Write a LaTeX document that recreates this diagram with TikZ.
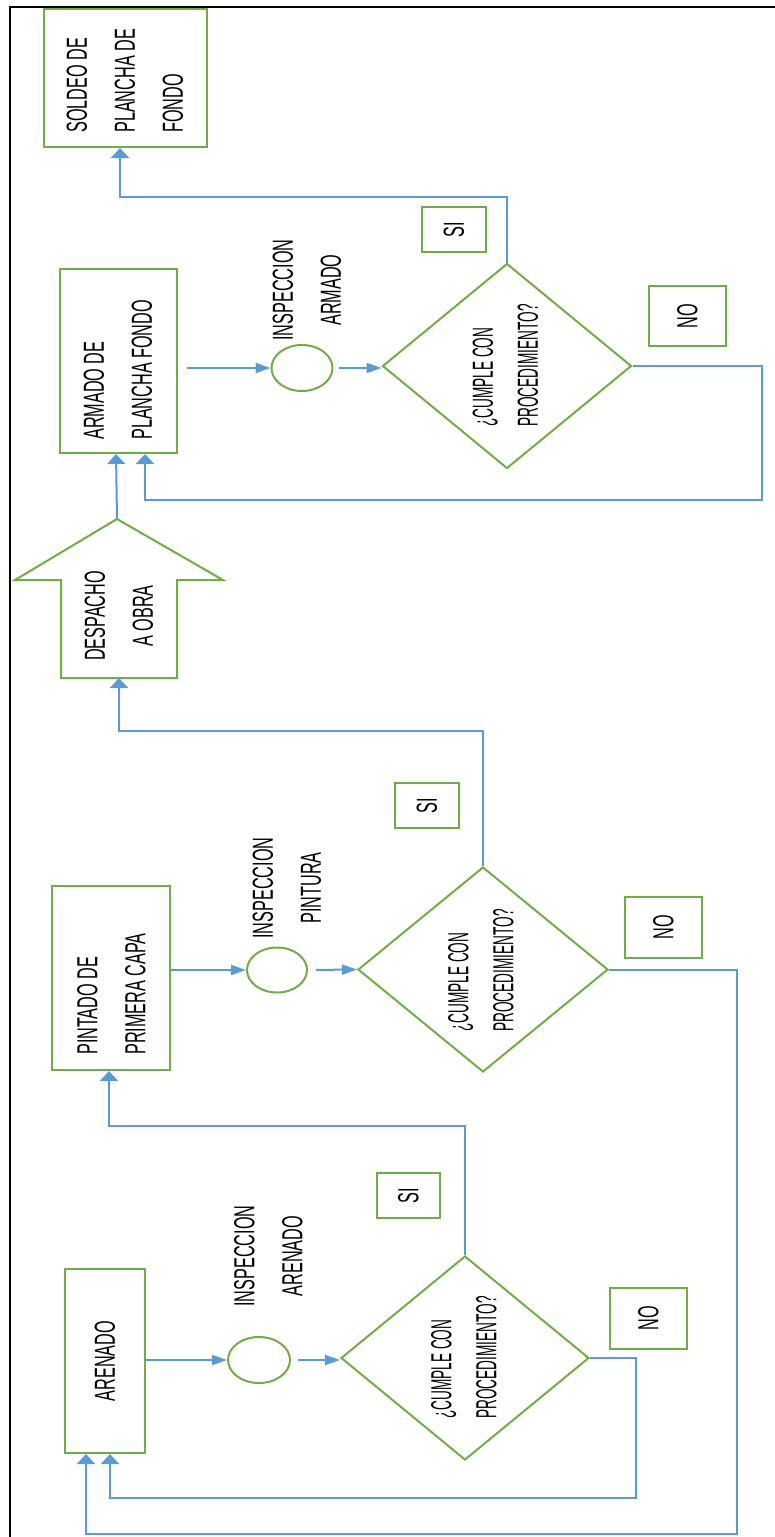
\documentclass[tikz,border=0pt]{standalone}
\usepackage{fontspec}
\usepackage{graphicx}
\newfontfamily\nf[FakeStretch=0.56]{Liberation Sans}
\newfontfamily\df[FakeStretch=0.47]{Liberation Sans}
\usetikzlibrary{shapes.geometric,arrows.meta}
\definecolor{gr}{HTML}{70AD47}
\definecolor{bl}{HTML}{5B9BD5}
\tikzset{
  gbox/.style={draw=gr, line width=2pt, rectangle, inner sep=0pt, font=\nf\fontsize{29}{48}\selectfont},
  gell/.style={draw=gr, line width=2pt, ellipse, inner sep=0pt},
  gdia/.style={draw=gr, line width=2pt, diamond, inner sep=0pt},
  txt/.style={rotate=90, inner sep=0pt, font=\nf\fontsize{29}{48}\selectfont},
  dtxt/.style={rotate=90, inner sep=0pt, align=left, font=\df\fontsize{29}{45}\selectfont},
  conn/.style={draw=bl, line width=2pt},
  varr/.style={-{Triangle[length=10pt,width=18pt]}},
  harr/.style={-{Triangle[length=15pt,width=10pt]}},
}
\begin{document}
\begin{tikzpicture}[x=1pt,y=-1pt]
\useasboundingbox (0,0) rectangle (775,1537);
\draw[line width=2.5pt] (10,1550) -- (10,7) -- (790,7);

% boxes
\node[gbox, minimum width=163pt, minimum height=138pt] (soldeo) at (125.5,78) {};
\node[txt, align=left, anchor=west] (soldeot) at (125,133) {SOLDEO DE\\PLANCHA DE\\FONDO};
\node[gbox, minimum width=117pt, minimum height=184pt] (armado) at (118.5,361) {};
\node[txt, align=left, anchor=west] (armadot) at (118,440) {ARMADO DE\\PLANCHA FONDO};
\node[gbox, minimum width=118pt, minimum height=184pt] (pintado) at (111,978) {};
\node[txt, align=left, anchor=west] (pintadot) at (111.5,1055) {PINTADO DE\\PRIMERA CAPA};
\node[gbox, minimum width=80pt, minimum height=184pt] (arenado) at (105,1361) {\rotatebox{90}{ARENADO}};

% despacho arrow shape
\coordinate (desptip) at (117,519);
\coordinate (despbase) at (119,678);
\draw[draw=gr, line width=2pt, line join=miter] (61,678) -- (61,580) -- (15,580) -- (desptip) -- (223,580) -- (177,580) -- (177,678) -- cycle;
\node[txt, align=center] (despt) at (119,616) {DESPACHO\\A OBRA};

% inspections
\node[gell, minimum width=61pt, minimum height=46pt] (e1) at (302,368) {};
\node[txt, align=center] (i1) at (307,290) {INSPECCION\\ARMADO};
\node[gell, minimum width=60pt, minimum height=45pt] (e2) at (277,970) {};
\node[txt, align=center] (i2) at (287,888) {INSPECCION\\PINTURA};
\node[gell, minimum width=62pt, minimum height=46pt] (e3) at (259,1360) {};
\node[txt, align=center] (i3) at (268.5,1256) {INSPECCION\\ARENADO};

% decisions
\node[gdia, minimum width=249pt, minimum height=205pt] (d1) at (507,366) {};
\node[dtxt, anchor=west] (d1t) at (505.5,427) {¿CUMPLE CON\\PROCEDIMIENTO?};
\node[gdia, minimum width=250pt, minimum height=205pt] (d2) at (483,969.5) {};
\node[dtxt, anchor=west] (d2t) at (481,1032) {¿CUMPLE CON\\PROCEDIMIENTO?};
\node[gdia, minimum width=248pt, minimum height=204pt] (d3) at (465,1358) {};
\node[dtxt, anchor=west] (d3t) at (464,1419) {¿CUMPLE CON\\PROCEDIMIENTO?};

% SI / NO labels
\node[gbox, minimum width=64pt, minimum height=45pt] (si1) at (454,229.5) {\rotatebox{90}{SI}};
\node[gbox, minimum width=64pt, minimum height=45pt] (si2) at (427,805.5) {\rotatebox{90}{SI}};
\node[gbox, minimum width=63pt, minimum height=45pt] (si3) at (408.5,1195.5) {\rotatebox{90}{SI}};
\node[gbox, minimum width=77pt, minimum height=60pt] (no1) at (687.5,316) {\rotatebox{90}{NO}};
\node[gbox, minimum width=77pt, minimum height=61pt] (no2) at (663.5,927.5) {\rotatebox{90}{NO}};
\node[gbox, minimum width=77pt, minimum height=61pt] (no3) at (648.5,1318.5) {\rotatebox{90}{NO}};

% connectors: armado stage
\draw[conn,harr,shorten <=9pt] (armado.east |- e1.west) -- (e1.west);
\draw[conn,harr,shorten <=5pt] (e1.east) -- (e1.east -| d1.west);
\draw[conn,varr] (d1.north) -- ++(0,-66) -| ([xshift=-5.5pt]soldeo.south);
\draw[conn,varr] (d1.east) -- ++(129,0) -- ++(0,134) -| ([xshift=26.5pt]armado.south);
\draw[conn,varr] (desptip) -- ([xshift=-2.5pt]armado.south);

% pintura stage
\draw[conn,harr] (pintado.east |- e2.west) -- (e2.west);
\draw[conn,harr,shorten <=8pt] (e2.east) -- (d2.west);
\draw[conn,varr] (d2.north) -- ++(0,-135) -| (despbase);
\draw[conn,varr] (d2.east) -- ++(128,0) -- ++(0,564) -| ([xshift=-19pt]arenado.south);

% arenado stage
\draw[conn,harr] (arenado.east |- e3.west) -- (e3.west);
\draw[conn,harr,shorten <=7pt] (e3.east) -- (e3.east -| d3.west);
\draw[conn,varr] (d3.north) -- ++(0,-129) -| ([xshift=-2pt]pintado.south);
\draw[conn,varr] (d3.east) -- ++(46,0) -- ++(0,140) -| ([xshift=5pt]arenado.south);
\end{tikzpicture}
\end{document}
